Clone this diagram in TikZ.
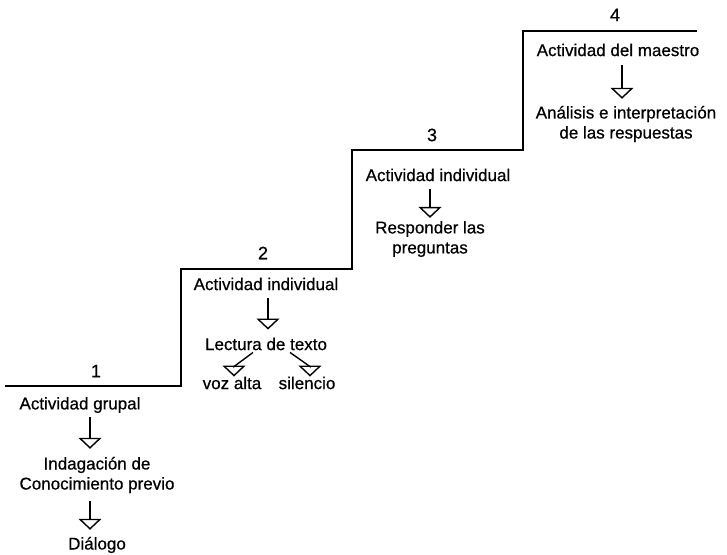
\documentclass[tikz,border=0pt]{standalone}
\usepackage{fontspec}
\setmainfont{Liberation Sans}
\newfontfamily\letra[FakeBold=0.6]{Liberation Sans}
\usetikzlibrary{arrows.meta}
\begin{document}
\begin{tikzpicture}[x=1pt,y=-1pt,
		texto/.style={inner sep=0pt, align=center, font=\letra\fontsize{17}{20}\selectfont},
		numero/.style={inner sep=0pt, font=\letra\fontsize{18}{20}\selectfont},
		flecha/.style={line width=1.4pt, -{Triangle[open,width=23pt,length=11pt,line width=1.4pt]}, shorten <=6pt, shorten >=7pt}]
		\path[use as bounding box, fill=white] (0,0) rectangle (727,554);

		% --- the stairs ---
		\def\escalera{ (5,386) -- (181,386) -- (181,269) -- (352,269) -- (352,150) -- (523,150) -- (523,31) -- (697,31)};
		\draw[line width=1.9pt] \escalera;

		% --- STEP 1 ---
		\node[numero] (n1) at (96,371) {1};
		\node[texto] (ag) at (80,405) {Actividad grupal};
		\node[texto] (ind) at (97,475) {Indagación de\\Conocimiento previo};
		\node[texto] (dia) at (97,545) {Diálogo};
		\coordinate (ind-in) at ([xshift=-7pt]ind.north);
		\coordinate (dia-in) at ([xshift=-7pt]dia.north);
		\draw[flecha, shorten <=4pt, shorten >=8pt] (ind-in |- ag.south) -- (ind-in);
		\draw[flecha, shorten <=8pt] (dia-in |- ind.south) -- (dia-in);

		% --- STEP 2 ---
		\node[numero] (n2) at (263,253) {2};
		\node[texto] (ai2) at (266,284) {Actividad individual};
		\node[texto] (lec) at (266,344) {Lectura de texto};
		\node[texto] (voz) at (232,383) {voz alta};
		\node[texto] (sil) at (307,383) {silencio};
		\draw[flecha, shorten <=8pt, shorten >=8pt] ([xshift=2pt]ai2.south) -- ([xshift=2pt]lec.north);
		\draw[flecha, shorten <=0pt, shorten >=0pt] ([xshift=-13pt,yshift=-2pt]lec.south) -- ([xshift=2pt,yshift=10pt]voz.north) -- ([xshift=2pt]voz.north);
		\draw[flecha, shorten <=0pt, shorten >=0pt] ([xshift=24pt,yshift=-2pt]lec.south) -- ([xshift=3pt,yshift=10pt]sil.north) -- ([xshift=3pt]sil.north);

		% --- STEP 3 ---
		\node[numero] (n3) at (432,135) {3};
		\node[texto] (ai3) at (438,175) {Actividad individual};
		\node[texto] (res) at (430,239) {Responder las\\preguntas};
		\draw[flecha, shorten <=8pt, shorten >=3pt] (res.north |- ai3.south) -- (res.north);

		% --- STEP 4 ---
		\node[numero] (n4) at (615,15) {4};
		\node[texto] (adm) at (618,50) {Actividad del maestro};
		\node[texto] (ana) at (626,124) {Análisis e interpretación\\de las respuestas};
		\coordinate (ana-in) at ([xshift=-4pt]ana.north);
		\draw[flecha, shorten <=9pt, shorten >=7pt] (ana-in |- adm.south) -- (ana-in);
	\end{tikzpicture}
\end{document}
